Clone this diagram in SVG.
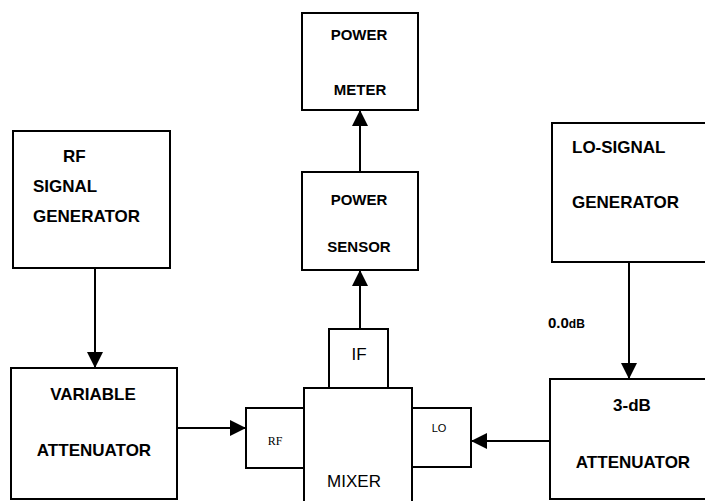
<svg xmlns="http://www.w3.org/2000/svg" width="705" height="501" viewBox="0 0 705 501">
<defs>
<marker id="arr" markerUnits="userSpaceOnUse" markerWidth="16" markerHeight="16" refX="16" refY="8" orient="auto">
<path d="M0,0 L16,8 L0,16 z" fill="#000"/>
</marker>
<style>
.box{fill:#fff;stroke:#000;stroke-width:2}
.b{font-family:"Liberation Sans",Arial,sans-serif;font-weight:bold;font-size:17px;fill:#000}
.b15{font-family:"Liberation Sans",Arial,sans-serif;font-weight:bold;font-size:15px;fill:#000}
.r{font-family:"Liberation Sans",Arial,sans-serif;font-size:17px;fill:#000}
.m{text-anchor:middle}
.conn{stroke:#000;stroke-width:2;fill:none;marker-end:url(#arr)}
</style>
</defs>
<rect width="705" height="501" fill="#fff"/>
<g id="connectors">
<line class="conn" x1="95" y1="268" x2="95" y2="368"/>
<line class="conn" x1="177" y1="428" x2="246" y2="428"/>
<line class="conn" x1="550" y1="441" x2="471" y2="441"/>
<line class="conn" x1="629" y1="262" x2="629" y2="379"/>
<line class="conn" x1="360" y1="329" x2="360" y2="270"/>
<line class="conn" x1="360" y1="172" x2="360" y2="110"/>
</g>
<g id="power-meter">
<rect class="box" x="302" y="13" width="116" height="97"/>
<text class="b15 m" x="359" y="40">POWER</text>
<text class="b15 m" x="360" y="95">METER</text>
</g>
<g id="power-sensor">
<rect class="box" x="302" y="172" width="116" height="98"/>
<text class="b15 m" x="359" y="205">POWER</text>
<text class="b15 m" x="359" y="252">SENSOR</text>
</g>
<g id="rf-generator">
<rect class="box" x="13" y="131" width="157" height="137"/>
<text class="b" x="63" y="162">RF</text>
<text class="b" x="33" y="192">SIGNAL</text>
<text class="b" x="33" y="222">GENERATOR</text>
</g>
<g id="lo-generator">
<rect class="box" x="552" y="123" width="170" height="139"/>
<text class="b" x="572" y="153">LO-SIGNAL</text>
<text class="b" x="572" y="208">GENERATOR</text>
</g>
<g id="variable-attenuator">
<rect class="box" x="11" y="368" width="166" height="131"/>
<text class="b m" x="93" y="400">VARIABLE</text>
<text class="b m" x="94" y="456">ATTENUATOR</text>
</g>
<g id="attenuator-3db">
<rect class="box" x="550" y="379" width="170" height="120"/>
<text class="b m" x="632" y="411">3-dB</text>
<text class="b m" x="633" y="468">ATTENUATOR</text>
</g>
<g id="level-label">
<text x="548" y="328" font-family="'Liberation Sans',Arial,sans-serif" font-weight="bold" fill="#000"><tspan font-size="15px">0.0</tspan><tspan font-size="12px">dB</tspan></text>
</g>
<g id="mixer">
<rect class="box" x="304" y="388" width="108" height="125"/>
<text class="r m" x="354" y="487" font-size="17.5px">MIXER</text>
</g>
<g id="if-port">
<rect class="box" x="329" y="329" width="59" height="59"/>
<text class="r m" x="359" y="360">IF</text>
</g>
<g id="rf-port">
<rect class="box" x="246" y="408" width="58" height="60"/>
<text x="275" y="445" text-anchor="middle" font-family="'Liberation Serif','Times New Roman',serif" font-size="12px" fill="#000">RF</text>
</g>
<g id="lo-port">
<rect class="box" x="412" y="408" width="59" height="59"/>
<text x="439" y="432" text-anchor="middle" font-family="'Liberation Sans',Arial,sans-serif" font-size="11px" fill="#000">LO</text>
</g>
</svg>
